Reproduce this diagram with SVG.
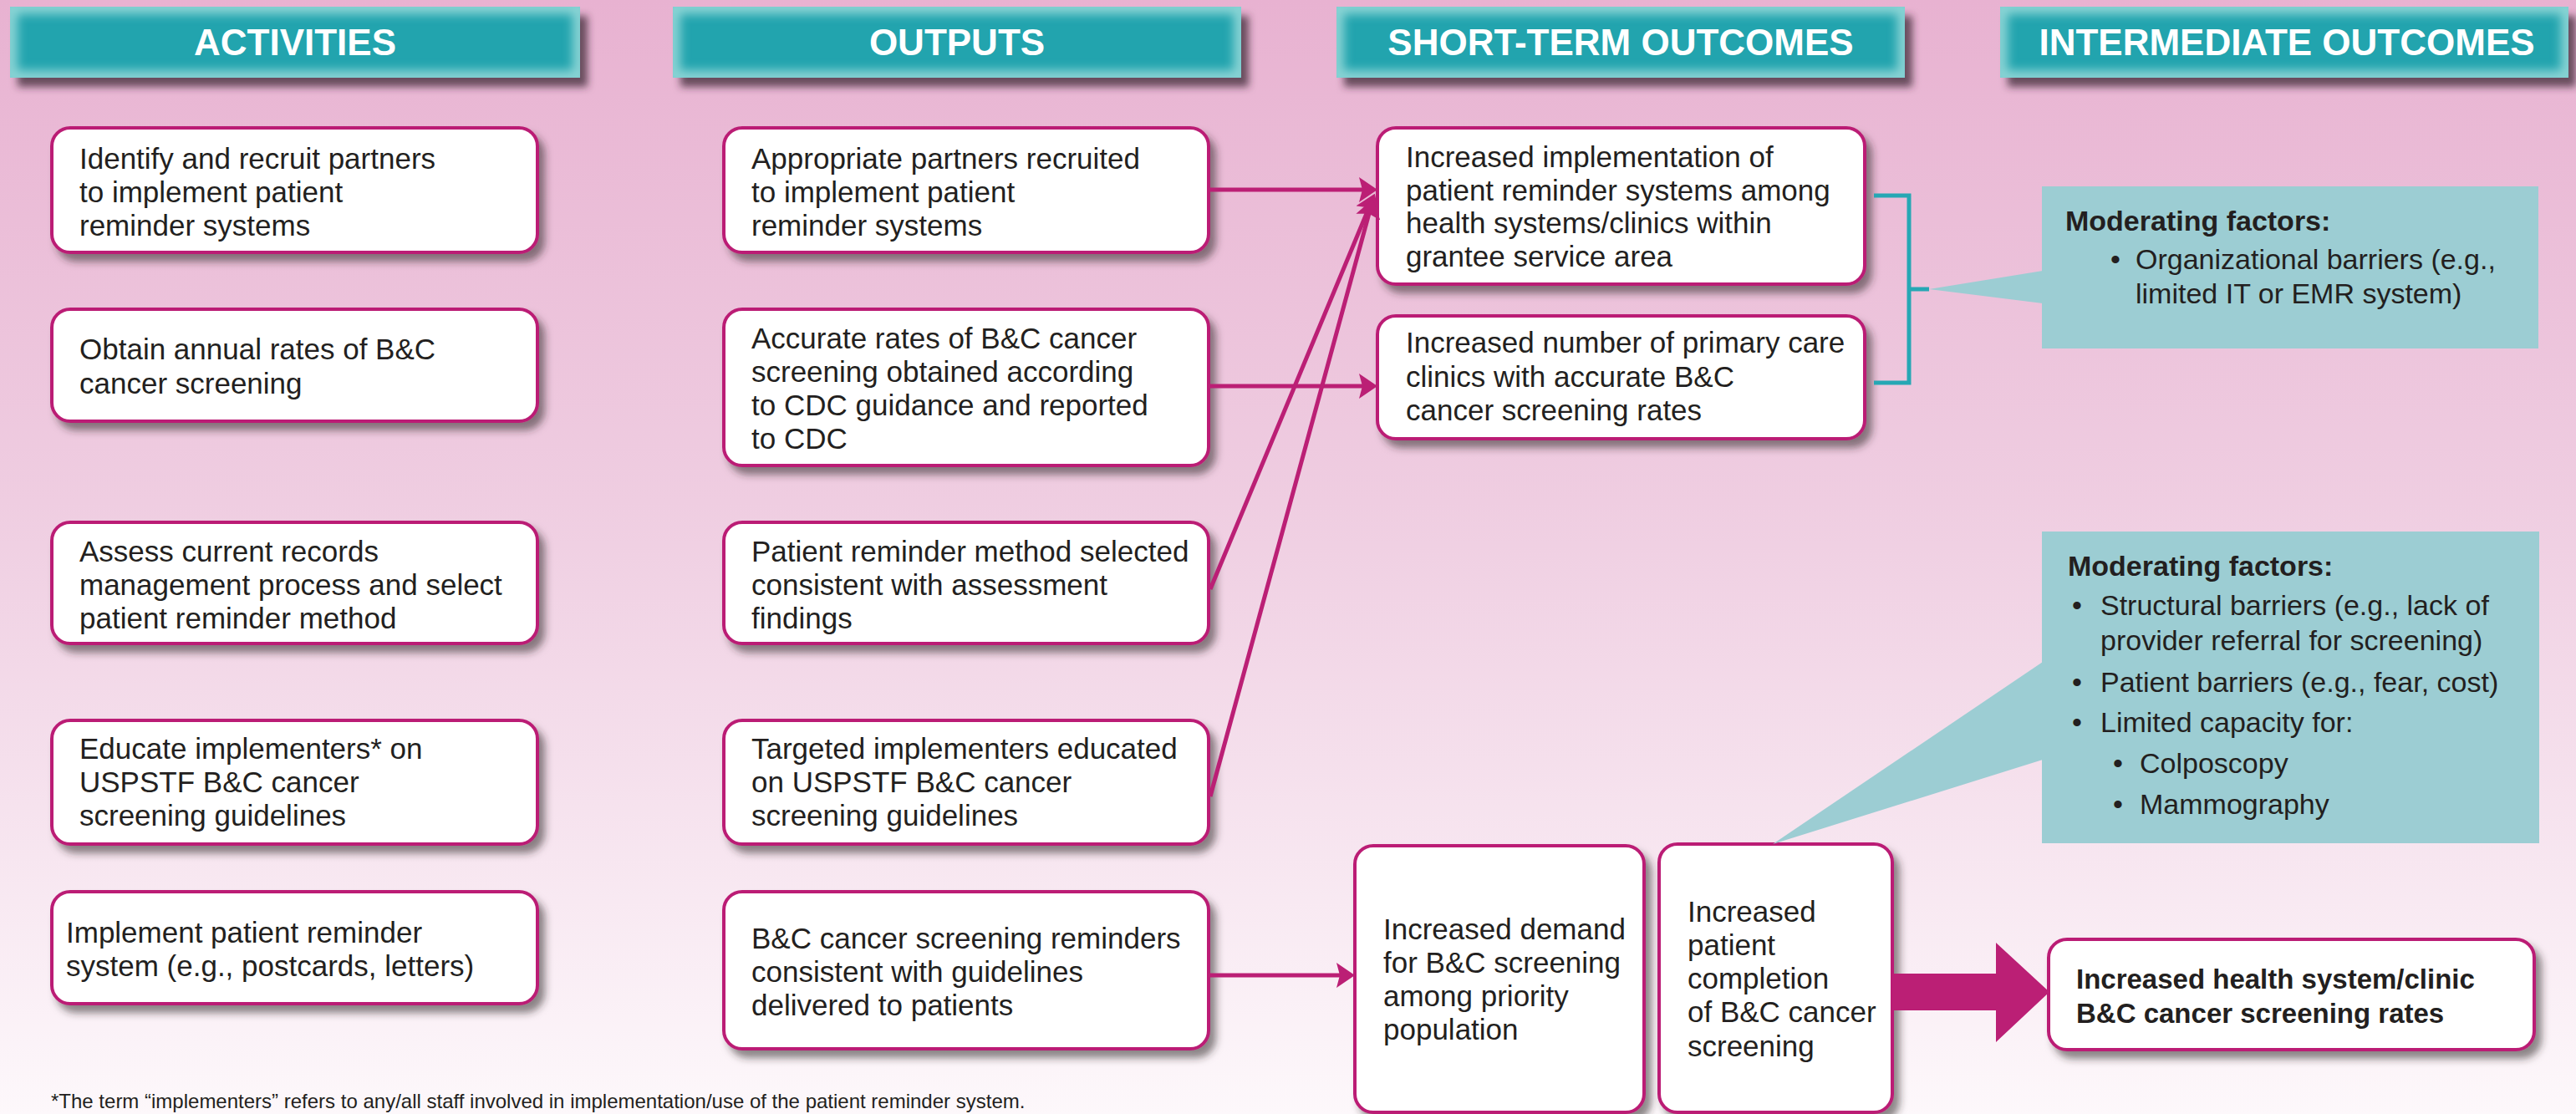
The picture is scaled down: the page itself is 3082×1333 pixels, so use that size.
<svg xmlns="http://www.w3.org/2000/svg" width="3082" height="1333" viewBox="0 0 3082 1333">
<style>
.hbox{fill:#21a4ae;filter:url(#hshadow)}
.hglow{fill:none;stroke:#88d3d4;stroke-width:18;filter:url(#glow)}
.htext{font-family:"Liberation Sans",Arial,sans-serif;font-weight:bold;font-size:44px;fill:#ffffff;text-anchor:middle}
.box{fill:#ffffff;stroke:#bb1f75;stroke-width:4;filter:url(#bshadow)}
.t{font-family:"Liberation Sans",Arial,sans-serif;font-size:35px;fill:#231f20}
.m{font-family:"Liberation Sans",Arial,sans-serif;font-size:34px;fill:#231f20}
.b{font-weight:bold}
.fb{font-family:"Liberation Sans",Arial,sans-serif;font-size:33px;font-weight:bold;fill:#231f20}
.mod{fill:#9ccdd3}
.conn{fill:none;stroke:#bb1f75;stroke-width:5}
.big{fill:#bb1f75}
.brk{fill:none;stroke:#26a7b4;stroke-width:5}
.foot{font-family:"Liberation Sans",Arial,sans-serif;font-size:24px;fill:#231f20}
</style>
<defs>
<linearGradient id="bg" x1="0" y1="0" x2="0" y2="1">
<stop offset="0" stop-color="#e8b2d1"/>
<stop offset="0.45" stop-color="#efcde1"/>
<stop offset="1" stop-color="#fdf8fb"/>
</linearGradient>
<filter id="hshadow" x="-5%" y="-20%" width="115%" height="160%">
<feDropShadow dx="9" dy="11" stdDeviation="5" flood-color="#3d2a36" flood-opacity="0.75"/>
</filter>
<filter id="bshadow" x="-5%" y="-10%" width="115%" height="130%">
<feDropShadow dx="7" dy="9" stdDeviation="5" flood-color="#2e2a2c" flood-opacity="0.55"/>
</filter>
<filter id="glow"><feGaussianBlur stdDeviation="6"/></filter>
<clipPath id="cb" clipPathUnits="objectBoundingBox"><rect x="0" y="0" width="1" height="1"/></clipPath>
<marker id="ah" viewBox="0 0 22 30" refX="12" refY="15" markerWidth="22" markerHeight="30" markerUnits="userSpaceOnUse" orient="auto"><path d="M0,0 L22,15 L0,30 L4,15 z" fill="#bb1f75"/></marker>
</defs>
<rect x="0" y="0" width="3082" height="1333" fill="url(#bg)"/>

<g id="headers">
<g id="h-activities"><rect class="hbox" x="12" y="8" width="682" height="85"/><rect class="hglow" x="12" y="8" width="682" height="85" clip-path="url(#cb)"/><text class="htext" x="353" y="66">ACTIVITIES</text></g>
<g id="h-outputs"><rect class="hbox" x="805" y="8" width="680" height="85"/><rect class="hglow" x="805" y="8" width="680" height="85" clip-path="url(#cb)"/><text class="htext" x="1145" y="66">OUTPUTS</text></g>
<g id="h-short"><rect class="hbox" x="1599" y="8" width="680" height="85"/><rect class="hglow" x="1599" y="8" width="680" height="85" clip-path="url(#cb)"/><text class="htext" x="1939" y="66">SHORT-TERM OUTCOMES</text></g>
<g id="h-inter"><rect class="hbox" x="2393" y="8" width="680" height="85"/><rect class="hglow" x="2393" y="8" width="680" height="85" clip-path="url(#cb)"/><text class="htext" x="2736" y="66">INTERMEDIATE OUTCOMES</text></g>
</g>

<g id="a1"><rect class="box" x="62" y="153" width="581" height="149" rx="22"/><text class="t"><tspan x="95" y="202">Identify and recruit partners</tspan><tspan x="95" y="242">to implement patient</tspan><tspan x="95" y="282">reminder systems</tspan></text></g>
<g id="a2"><rect class="box" x="62" y="370" width="581" height="134" rx="22"/><text class="t"><tspan x="95" y="430">Obtain annual rates of B&amp;C</tspan><tspan x="95" y="471">cancer screening</tspan></text></g>
<g id="a3"><rect class="box" x="62" y="625" width="581" height="145" rx="22"/><text class="t"><tspan x="95" y="672">Assess current records</tspan><tspan x="95" y="712">management process and select</tspan><tspan x="95" y="752">patient reminder method</tspan></text></g>
<g id="a4"><rect class="box" x="62" y="862" width="581" height="148" rx="22"/><text class="t"><tspan x="95" y="908">Educate implementers* on</tspan><tspan x="95" y="948">USPSTF B&amp;C cancer</tspan><tspan x="95" y="988">screening guidelines</tspan></text></g>
<g id="a5"><rect class="box" x="62" y="1067" width="581" height="134" rx="22"/><text class="t"><tspan x="79" y="1128">Implement patient reminder</tspan><tspan x="79" y="1168">system (e.g., postcards, letters)</tspan></text></g>

<g id="o1"><rect class="box" x="866" y="153" width="580" height="149" rx="22"/><text class="t"><tspan x="899" y="202">Appropriate partners recruited</tspan><tspan x="899" y="242">to implement patient</tspan><tspan x="899" y="282">reminder systems</tspan></text></g>
<g id="o2"><rect class="box" x="866" y="370" width="580" height="187" rx="22"/><text class="t"><tspan x="899" y="417">Accurate rates of B&amp;C cancer</tspan><tspan x="899" y="457">screening obtained according</tspan><tspan x="899" y="497">to CDC guidance and reported</tspan><tspan x="899" y="537">to CDC</tspan></text></g>
<g id="o3"><rect class="box" x="866" y="625" width="580" height="145" rx="22"/><text class="t"><tspan x="899" y="672">Patient reminder method selected</tspan><tspan x="899" y="712">consistent with assessment</tspan><tspan x="899" y="752">findings</tspan></text></g>
<g id="o4"><rect class="box" x="866" y="862" width="580" height="148" rx="22"/><text class="t"><tspan x="899" y="908">Targeted implementers educated</tspan><tspan x="899" y="948">on USPSTF B&amp;C cancer</tspan><tspan x="899" y="988">screening guidelines</tspan></text></g>
<g id="o5"><rect class="box" x="866" y="1067" width="580" height="188" rx="22"/><text class="t"><tspan x="899" y="1135">B&amp;C cancer screening reminders</tspan><tspan x="899" y="1175">consistent with guidelines</tspan><tspan x="899" y="1215">delivered to patients</tspan></text></g>

<g id="s1"><rect class="box" x="1648" y="153" width="583" height="187" rx="22"/><text class="t"><tspan x="1682" y="200">Increased implementation of</tspan><tspan x="1682" y="240">patient reminder systems among</tspan><tspan x="1682" y="279">health systems/clinics within</tspan><tspan x="1682" y="319">grantee service area</tspan></text></g>
<g id="s2"><rect class="box" x="1648" y="378" width="583" height="147" rx="22"/><text class="t"><tspan x="1682" y="422">Increased number of primary care</tspan><tspan x="1682" y="463">clinics with accurate B&amp;C</tspan><tspan x="1682" y="503">cancer screening rates</tspan></text></g>
<g id="s3"><rect class="box" x="1621" y="1012" width="346" height="319" rx="22"/><text class="t"><tspan x="1655" y="1124">Increased demand</tspan><tspan x="1655" y="1164">for B&amp;C screening</tspan><tspan x="1655" y="1204">among priority</tspan><tspan x="1655" y="1244">population</tspan></text></g>
<g id="s4"><rect class="box" x="1985" y="1010" width="279" height="321" rx="22"/><text class="t"><tspan x="2019" y="1103">Increased</tspan><tspan x="2019" y="1143">patient</tspan><tspan x="2019" y="1183">completion</tspan><tspan x="2019" y="1223">of B&amp;C cancer</tspan><tspan x="2019" y="1264">screening</tspan></text></g>

<g id="i1"><rect class="box" x="2451" y="1124" width="581" height="132" rx="22"/><text class="fb"><tspan x="2484" y="1183">Increased health system/clinic</tspan><tspan x="2484" y="1224">B&amp;C cancer screening rates</tspan></text></g>

<g id="mod1"><polygon class="mod" points="2308,346 2444,324 2444,363"/><rect class="mod" x="2443" y="223" width="594" height="194"/><text class="m"><tspan class="b" x="2471" y="276">Moderating factors:</tspan><tspan x="2525" y="322">•</tspan><tspan x="2555" y="322">Organizational barriers (e.g.,</tspan><tspan x="2555" y="363">limited IT or EMR system)</tspan></text></g>
<g id="mod2"><polygon class="mod" points="2444,792 2444,909 2121,1010"/><rect class="mod" x="2443" y="636" width="595" height="373"/><text class="m"><tspan class="b" x="2474" y="689">Moderating factors:</tspan><tspan x="2479" y="736">•</tspan><tspan x="2513" y="736">Structural barriers (e.g., lack of</tspan><tspan x="2513" y="778">provider referral for screening)</tspan><tspan x="2479" y="828">•</tspan><tspan x="2513" y="828">Patient barriers (e.g., fear, cost)</tspan><tspan x="2479" y="876">•</tspan><tspan x="2513" y="876">Limited capacity for:</tspan><tspan x="2528" y="925">•</tspan><tspan x="2560" y="925">Colposcopy</tspan><tspan x="2528" y="974">•</tspan><tspan x="2560" y="974">Mammography</tspan></text></g>

<g id="connectors">
<path class="conn" d="M1446,227 H1638" marker-end="url(#ah)"/>
<path class="conn" d="M1446,462 H1638" marker-end="url(#ah)"/>
<path class="conn" d="M1448,705 L1641,241" marker-end="url(#ah)"/>
<path class="conn" d="M1448,953 L1640,248" marker-end="url(#ah)"/>
<path class="conn" d="M1446,1167 H1611" marker-end="url(#ah)"/>
<polygon class="big" points="2264,1165 2388,1165 2388,1128 2452,1187 2388,1247 2388,1209 2264,1209"/>
<path class="brk" d="M2242,234 H2284 V458 H2242 M2284,346 H2308"/>
</g>

<text class="foot" x="61" y="1326">*The term “implementers” refers to any/all staff involved in implementation/use of the patient reminder system.</text>
</svg>
